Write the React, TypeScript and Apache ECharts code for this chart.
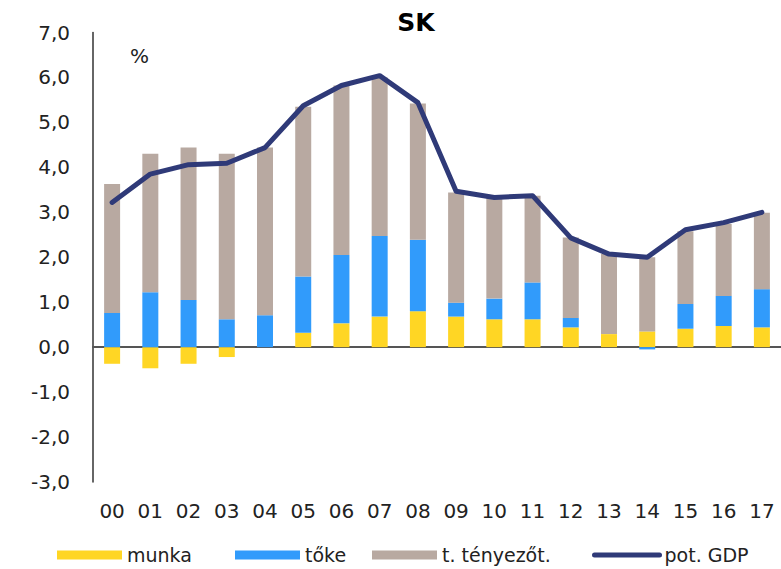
import React, { useEffect, useRef } from "react";
import * as echarts from "echarts";

const categories = ["00", "01", "02", "03", "04", "05", "06", "07", "08", "09", "10", "11", "12", "13", "14", "15", "16", "17"];
const munka = [-0.37, -0.47, -0.37, -0.22, 0.0, 0.32, 0.53, 0.68, 0.8, 0.68, 0.62, 0.62, 0.44, 0.29, 0.35, 0.41, 0.47, 0.44];
const toke = [0.76, 1.22, 1.05, 0.62, 0.71, 1.25, 1.52, 1.79, 1.59, 0.31, 0.46, 0.82, 0.21, 0.0, -0.05, 0.55, 0.67, 0.85];
const tfp = [2.87, 3.08, 3.39, 3.68, 3.73, 3.78, 3.77, 3.53, 3.03, 2.45, 2.24, 1.93, 1.79, 1.78, 1.65, 1.62, 1.6, 1.7];
const potGdp = [3.22, 3.85, 4.06, 4.09, 4.44, 5.37, 5.82, 6.04, 5.44, 3.47, 3.33, 3.37, 2.43, 2.07, 2.0, 2.61, 2.77, 3.0];

const FONT = "DejaVu Sans";
const C_YELLOW = "#FFD624";
const C_BLUE = "#319BFB";
const C_GREY = "#B8A9A1";
const C_NAVY = "#2F3A78";

export default function App() {
  const ref = useRef<HTMLDivElement>(null);
  useEffect(() => {
    if (!ref.current) return;
    const chart = echarts.init(ref.current, undefined, { renderer: "svg" });
    const legendBase = {
      top: 544,
      padding: 0,
      itemWidth: 65,
      itemHeight: 9,
      itemGap: 0,
      textStyle: { fontFamily: FONT, fontSize: 19, color: "#222", lineHeight: 22 },
    };
    chart.setOption({
      animation: false,
      backgroundColor: "#fff",
      title: {
        text: "SK",
        left: 411,
        textAlign: "center",
        top: 5,
        textStyle: { fontFamily: FONT, fontSize: 25, fontWeight: "bold", color: "#000" },
      },
      grid: { left: 93, right: 0, top: 32.5, bottom: 87 },
      legend: [
        { ...legendBase, left: 57, icon: "rect", data: ["munka"] },
        { ...legendBase, left: 235, icon: "rect", data: ["tőke"] },
        { ...legendBase, left: 372, icon: "rect", data: ["t. tényezőt."] },
        {
          ...legendBase,
          left: 592,
          itemHeight: 12,
          data: ["pot. GDP"],
          lineStyle: { width: 5, cap: "round" },
          itemStyle: { opacity: 0 },
        },
      ],
      xAxis: [
        {
          type: "category",
          data: categories,
          position: "bottom",
          axisLine: { show: false, onZero: false },
          axisTick: { show: false },
          axisLabel: { fontFamily: FONT, fontSize: 20, color: "#222", margin: 19 },
        },
        {
          type: "category",
          data: categories,
          position: "bottom",
          axisLine: { show: true, onZero: true, lineStyle: { color: "#555", width: 2 } },
          axisTick: { show: false },
          axisLabel: { show: false },
        },
      ],
      yAxis: {
        type: "value",
        min: -3,
        max: 7,
        interval: 1,
        axisLine: { show: true, lineStyle: { color: "#333", width: 1.5 } },
        axisTick: { show: false },
        splitLine: { show: false },
        axisLabel: {
          fontFamily: FONT,
          fontSize: 20,
          color: "#222",
          margin: 23,
          formatter: (v: number) => v.toFixed(1).replace(".", ","),
        },
      },
      graphic: [
        {
          type: "text",
          left: 130,
          top: 46,
          style: { text: "%", fontFamily: FONT, fontSize: 20, fill: "#222" },
        },
      ],
      series: [
        { name: "munka", type: "bar", stack: "a", barWidth: 16, data: munka, itemStyle: { color: C_YELLOW } },
        { name: "tőke", type: "bar", stack: "a", barWidth: 16, data: toke, itemStyle: { color: C_BLUE } },
        { name: "t. tényezőt.", type: "bar", stack: "a", barWidth: 16, data: tfp, itemStyle: { color: C_GREY } },
        {
          name: "pot. GDP",
          type: "line",
          data: potGdp,
          symbol: "none",
          z: 5,
          lineStyle: { color: C_NAVY, width: 5, cap: "round", join: "round" },
          itemStyle: { color: C_NAVY },
        },
      ],
    });
    return () => chart.dispose();
  }, []);
  return <div ref={ref} style={{ width: 781, height: 569, position: "absolute", left: 0, top: 0 }} />;
}
